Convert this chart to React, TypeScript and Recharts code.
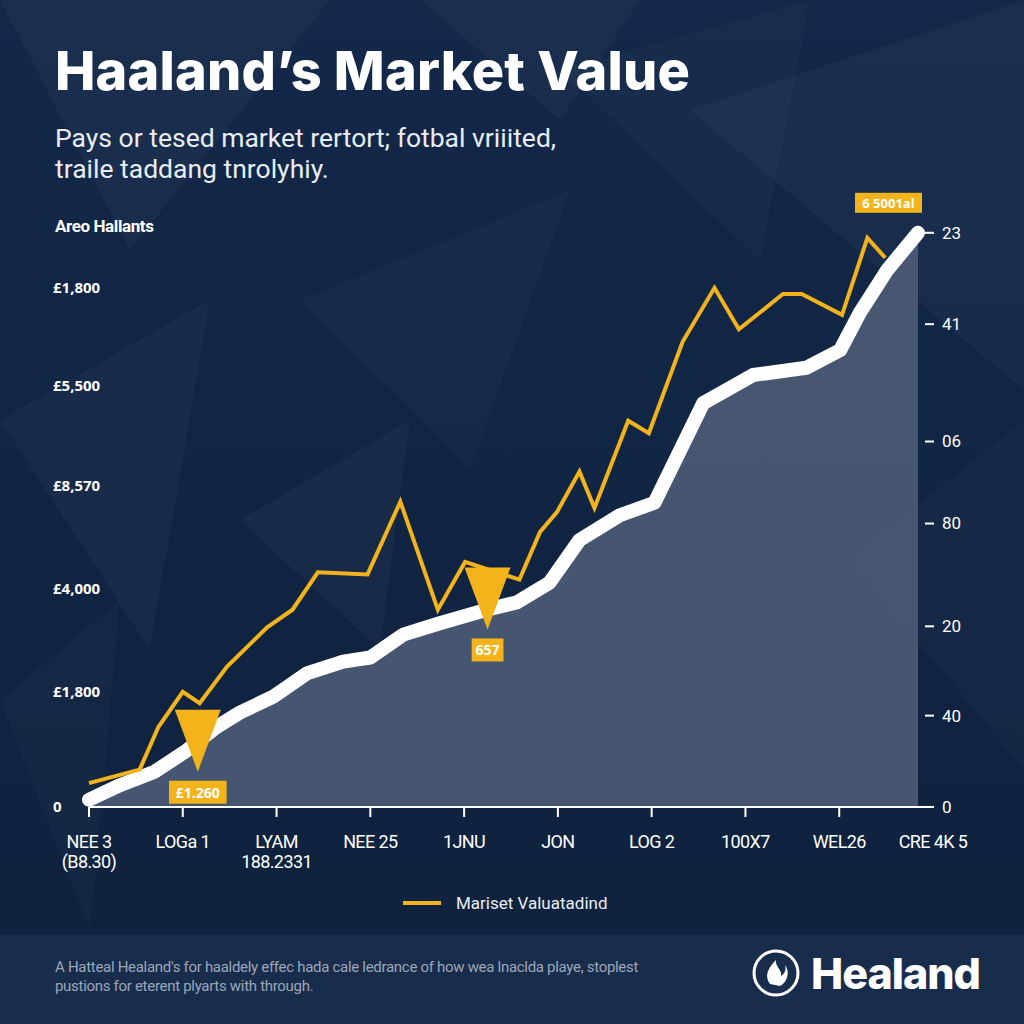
import React from "react";
import { ComposedChart, Area, Line, XAxis, YAxis, ReferenceDot } from "recharts";

// x-axis categories (index = tick value)
const xLabels = [
  "NEE 3\n(B8.30)",
  "LOGa 1",
  "LYAM\n188.2331",
  "NEE 25",
  "1JNU",
  "JON",
  "LOG 2",
  "100X7",
  "WEL26",
  "CRE 4K 5",
];

const leftTicks = [0, 1.11, 2.1, 3.09, 4.06, 5];
const leftTickLabels = ["0", "£1,800", "£4,000", "£8,570", "£5,500", "£1,800"];

const rightTicks = [0, 0.88, 1.74, 2.73, 3.52, 4.65, 5.53];
const rightTickLabels = ["0", "40", "20", "80", "06", "41", "23"];

// white area: market value
const valueX = [0, 0.33, 0.7, 1.02, 1.36, 1.61, 1.96, 2.33, 2.71, 3.0, 3.35, 3.74, 4.24, 4.56, 4.91, 5.23, 5.66, 6.03, 6.55, 7.08, 7.65, 8.01, 8.22, 8.51, 8.84];
const valueY = [0.07, 0.21, 0.34, 0.53, 0.77, 0.91, 1.06, 1.29, 1.4, 1.44, 1.66, 1.77, 1.9, 1.97, 2.16, 2.57, 2.81, 2.93, 3.89, 4.16, 4.23, 4.4, 4.76, 5.17, 5.53];

// yellow line: "Mariset Valuatadind"
const trendX = [0, 0.54, 0.74, 1.0, 1.18, 1.47, 1.9, 2.17, 2.44, 2.97, 3.32, 3.72, 4.01, 4.59, 4.81, 4.99, 5.23, 5.39, 5.75, 5.97, 6.33, 6.67, 6.93, 7.4, 7.6, 8.03, 8.3, 8.49];
const trendY = [0.23, 0.36, 0.77, 1.11, 1.0, 1.35, 1.73, 1.9, 2.26, 2.24, 2.94, 1.9, 2.36, 2.19, 2.65, 2.84, 3.23, 2.88, 3.72, 3.6, 4.48, 5.0, 4.6, 4.94, 4.94, 4.74, 5.48, 5.29];

const markerX = [1.16, 4.25];
const markerY = [0.34, 1.71];
const markerLabels = ["£1.260", "657"];
const peakLabel = "6 5001al";

const YELLOW = "#f3b41b";
const valueData = valueX.map((x, i) => ({ x, v: valueY[i] }));
const trendData = trendX.map((x, i) => ({ x, t: trendY[i] }));

const XTick = (props: any) => {
  const { x, y, payload } = props;
  const lines = xLabels[payload.value].split("\n");
  return (
    <g>
      {payload.value < 9 && <line x1={x} x2={x} y1={y} y2={y + 10} stroke="#fff" strokeWidth={2} />}
      {lines.map((t, k) => (
        <text key={k} x={x} y={y + 41 + k * 20} textAnchor="middle" fill="#fff" fontSize={18} fontFamily="Roboto" letterSpacing={-0.6}>
          {t}
        </text>
      ))}
    </g>
  );
};

const LeftTick = (props: any) => {
  const { x, y, payload } = props;
  const i = leftTicks.indexOf(payload.value);
  return (
    <text x={x - 36} y={y} dy="0.35em" textAnchor="start" fill="#fff" fontSize={15} fontWeight={700} fontFamily="Open Sans">
      {leftTickLabels[i]}
    </text>
  );
};

const RightTick = (props: any) => {
  const { x, y, payload } = props;
  const i = rightTicks.indexOf(payload.value);
  return (
    <g>
      <line x1={x - 8} x2={x + 1} y1={y} y2={y} stroke="#fff" strokeWidth={2} />
      <text x={x + 9} y={y} dy="0.35em" textAnchor="start" fill="#fff" fontSize={17} fontFamily="Roboto">
        {rightTickLabels[i]}
      </text>
    </g>
  );
};

const markerShape = (label: string) => (props: any) => {
  const { cx, cy } = props;
  const w = label.length * 8.6 + 6;
  return (
    <g>
      <polygon points={`${cx - 23},${cy - 62} ${cx + 23},${cy - 62} ${cx},${cy}`} fill={YELLOW} />
      <rect x={cx - w / 2} y={cy + 9} width={w} height={23} fill={YELLOW} />
      <text x={cx} y={cy + 26} textAnchor="middle" fill="#fff" fontSize={14} fontWeight={700} fontFamily="Open Sans">
        {label}
      </text>
    </g>
  );
};

const peakShape = (props: any) => {
  const { cx, cy } = props;
  return (
    <g>
      <rect x={cx - 63} y={cy - 40} width={67} height={20} fill={YELLOW} />
      <text x={cx - 29.5} y={cy - 25} textAnchor="middle" fill="#fff" fontSize={13} fontWeight={700} fontFamily="Open Sans">
        {peakLabel}
      </text>
    </g>
  );
};

const facets = [
  "0,0 330,0 130,250",
  "300,300 570,190 470,470",
  "690,110 1024,0 1024,390",
  "560,70 810,0 760,260",
  "0,420 210,300 150,650",
  "850,560 1024,420 1024,770",
  "240,520 410,420 380,650",
  "0,700 120,600 90,930",
  "420,0 640,0 560,120",
];

export default function App() {
  return (
    <div style={{ position: "absolute", left: 0, top: 0, width: 1024, height: 1024, overflow: "hidden", background: "linear-gradient(180deg,#13284a 0%,#0e213c 100%)" }}>
      <svg width={1024} height={1024} style={{ position: "absolute", left: 0, top: 0 }}>
        {facets.map((p, i) => (
          <polygon key={i} points={p} fill="#ffffff" opacity={i % 2 ? 0.022 : 0.032} />
        ))}
        <rect x={0} y={935} width={1024} height={89} fill="#182c4c" />
      </svg>

      <div style={{ position: "absolute", left: 0, top: 0 }}>
        <ComposedChart width={1024} height={880} margin={{ top: 184, right: 0, bottom: 13, left: 0 }}>
          <XAxis
            type="number"
            dataKey="x"
            domain={[0, 9]}
            ticks={[0, 1, 2, 3, 4, 5, 6, 7, 8, 9]}
            interval={0}
            height={60}
            tickSize={0}
            tickMargin={0}
            tickLine={false}
            axisLine={{ stroke: "#fff", strokeWidth: 2 }}
            tick={<XTick />}
          />
          <YAxis yAxisId="left" domain={[0, 6]} ticks={leftTicks} interval={0} width={89} tickSize={0} tickMargin={0} axisLine={false} tickLine={false} tick={<LeftTick />} />
          <YAxis yAxisId="right" orientation="right" domain={[0, 6]} ticks={rightTicks} interval={0} width={91} tickSize={0} tickMargin={0} axisLine={false} tickLine={false} tick={<RightTick />} />
          <Area
            yAxisId="left"
            data={valueData}
            dataKey="v"
            type="linear"
            stroke="#ffffff"
            strokeWidth={14}
            strokeLinejoin="round"
            strokeLinecap="round"
            fill="#4b5a74"
            fillOpacity={0.93}
            isAnimationActive={false}
          />
          {/* invisible copy so the right axis has a series */}
          <Line
            yAxisId="right"
            data={valueData}
            dataKey="v"
            type="linear"
            stroke="none"
            dot={false}
            activeDot={false}
            legendType="none"
            isAnimationActive={false}
          />
          <Line
            yAxisId="left"
            data={trendData}
            dataKey="t"
            type="linear"
            stroke={YELLOW}
            strokeWidth={4}
            dot={false}
            isAnimationActive={false}
          />
          {markerX.map((x, i) => (
            <ReferenceDot key={i} yAxisId="left" x={x} y={markerY[i]} shape={markerShape(markerLabels[i])} />
          ))}
          <ReferenceDot yAxisId="left" x={valueX[valueX.length - 1]} y={valueY[valueY.length - 1]} shape={peakShape} />
        </ComposedChart>
      </div>

      <svg width={1024} height={1024} style={{ position: "absolute", left: 0, top: 0, pointerEvents: "none" }}>
        <text x={55} y={90} fill="#fff" fontSize={54} fontWeight={800} fontFamily="Inter" letterSpacing={0.2}>
          Haaland’s Market Value
        </text>
        <text x={55} y={147} fill="#e9edf3" fontSize={26.5} fontFamily="Roboto">
          Pays or tesed market rertort; fotbal vriiited,
        </text>
        <text x={55} y={178} fill="#e9edf3" fontSize={26.5} fontFamily="Roboto">
          traile taddang tnrolyhiy.
        </text>
        <text x={55} y={232} fill="#fff" fontSize={17} fontWeight={700} fontFamily="Roboto" letterSpacing={-0.4}>
          Areo Hallants
        </text>

        <line x1={403} x2={441} y1={903} y2={903} stroke={YELLOW} strokeWidth={4} />
        <text x={456} y={909} fill="#e9edf3" fontSize={17} fontFamily="Roboto">
          Mariset Valuatadind
        </text>

        <text x={55} y={972} fill="#9ba7b9" fontSize={15} fontFamily="Roboto" letterSpacing={-0.3}>
          A Hatteal Healand's for haaldely effec hada cale ledrance of how wea lnaclda playe, stoplest
        </text>
        <text x={55} y={991} fill="#9ba7b9" fontSize={15} fontFamily="Roboto" letterSpacing={-0.3}>
          pustions for eterent plyarts with through.
        </text>

        <circle cx={776} cy={973} r={22} fill="none" stroke="#fff" strokeWidth={3} />
        <path d="M770 984 C764 976 768 968 776 960 C775 967 782 969 781 976 C786 973 786 968 785 965 C790 971 788 982 780 986 Z" fill="#fff" />
        <text x={811} y={989} fill="#fff" fontSize={43} fontWeight={800} fontFamily="Inter" letterSpacing={-1}>
          Healand
        </text>
      </svg>
    </div>
  );
}
